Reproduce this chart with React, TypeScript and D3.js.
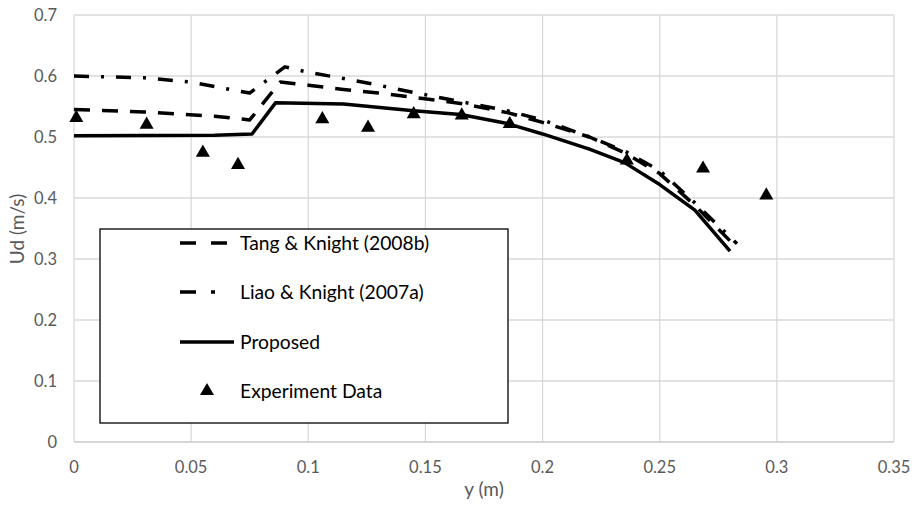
import React from "react";
import * as d3 from "d3";

const xTicks = [0, 0.05, 0.1, 0.15, 0.2, 0.25, 0.3, 0.35];
const yTicks = [0, 0.1, 0.2, 0.3, 0.4, 0.5, 0.6, 0.7];

const tangX = [0, 0.03, 0.06, 0.075, 0.088, 0.1, 0.115, 0.13, 0.145, 0.165, 0.185, 0.2, 0.22, 0.235, 0.25, 0.265, 0.282];
const tangY = [0.545, 0.541, 0.534, 0.528, 0.59, 0.585, 0.578, 0.572, 0.565, 0.555, 0.54, 0.524, 0.5, 0.474, 0.44, 0.388, 0.322];

const liaoX = [0, 0.03, 0.05, 0.075, 0.09, 0.1, 0.115, 0.13, 0.145, 0.165, 0.185, 0.2, 0.22, 0.235, 0.25, 0.265, 0.283];
const liaoY = [0.6, 0.597, 0.59, 0.572, 0.615, 0.606, 0.596, 0.585, 0.573, 0.558, 0.543, 0.528, 0.5, 0.477, 0.445, 0.392, 0.325];

const propX = [0, 0.06, 0.076, 0.086, 0.115, 0.145, 0.165, 0.185, 0.2, 0.22, 0.235, 0.25, 0.265, 0.28];
const propY = [0.502, 0.503, 0.505, 0.556, 0.554, 0.543, 0.537, 0.522, 0.505, 0.48, 0.458, 0.422, 0.38, 0.313];

const expX = [0.001, 0.031, 0.055, 0.07, 0.106, 0.1255, 0.145, 0.1655, 0.186, 0.236, 0.2685, 0.2955];
const expY = [0.533, 0.522, 0.476, 0.456, 0.531, 0.517, 0.539, 0.537, 0.523, 0.463, 0.45, 0.406];

const legendLabels = ["Tang & Knight (2008b)", "Liao & Knight (2007a)", "Proposed", "Experiment Data"];

const W = 917;
const H = 510;
const FONT = "Lato, 'Open Sans', sans-serif";

export default function App() {
  const x = d3.scaleLinear().domain([0, 0.35]).range([74, 894]);
  const y = d3.scaleLinear().domain([0, 0.7]).range([442, 15]);
  const line = d3
    .line<[number, number]>()
    .x((d) => x(d[0]))
    .y((d) => y(d[1]));
  const zip = (a: number[], b: number[]) => a.map((v, i) => [v, b[i]] as [number, number]);
  const tri = d3.symbol().type(d3.symbolTriangle).size(85)();

  const styles = [
    { dash: "16 12" },
    { dash: "15 12 3 12" },
    { dash: "" },
  ];
  const series = [zip(tangX, tangY), zip(liaoX, liaoY), zip(propX, propY)];

  const legendRowsY = [253, 302, 352, 401];

  return (
    <svg width={W} height={H} style={{ position: "absolute", left: 0, top: 0, background: "#fff" }}>
      <rect x={0} y={0} width={W} height={H} fill="#fff" />
      {xTicks.map((t) => (
        <line key={"gx" + t} x1={x(t)} x2={x(t)} y1={y(0)} y2={y(0.7)} stroke="#d9d9d9" strokeWidth={1.3} />
      ))}
      {yTicks.map((t) => (
        <line key={"gy" + t} x1={x(0)} x2={x(0.35)} y1={y(t)} y2={y(t)} stroke={t === 0 ? "#c8c8c8" : "#d9d9d9"} strokeWidth={1.3} />
      ))}
      {xTicks.map((t) => (
        <text key={"tx" + t} x={x(t)} y={473} textAnchor="middle" fontFamily={FONT} fontSize={16.5} fill="#595959">
          {d3.format("")(t)}
        </text>
      ))}
      {yTicks.map((t) => (
        <text key={"ty" + t} x={57} y={y(t) + 6} textAnchor="end" fontFamily={FONT} fontSize={16.5} fill="#595959">
          {d3.format("")(t)}
        </text>
      ))}
      <text x={484} y={496} textAnchor="middle" fontFamily={FONT} fontSize={19} fill="#595959">
        y (m)
      </text>
      <text
        transform={`translate(24, 229) rotate(-90)`}
        textAnchor="middle"
        fontFamily={FONT}
        fontSize={19}
        fill="#595959"
      >
        Ud (m/s)
      </text>
      {series.map((s, i) => (
        <path
          key={"s" + i}
          d={line(s) || ""}
          fill="none"
          stroke="#000"
          strokeWidth={3.5}
          strokeDasharray={styles[i].dash}
          strokeLinejoin="round"
        />
      ))}
      {expX.map((v, i) => (
        <path key={"e" + i} d={tri || ""} transform={`translate(${x(v)}, ${y(expY[i]) + 1})`} fill="#000" />
      ))}
      <rect x={100} y={229} width={408} height={194} fill="#fff" stroke="#000" strokeWidth={1.3} />
      {[0, 1, 2].map((i) => (
        <line
          key={"ll" + i}
          x1={180}
          x2={i === 2 ? 234 : 230}
          y1={legendRowsY[i] - 10}
          y2={legendRowsY[i] - 10}
          stroke="#000"
          strokeWidth={3.5}
          strokeDasharray={i === 0 ? "16 15" : i === 1 ? "16 15 4 40" : ""}
        />
      ))}
      <path d={tri || ""} transform={`translate(207, ${legendRowsY[3] - 10})`} fill="#000" />
      {legendLabels.map((l, i) => (
        <text key={"lt" + i} x={240} y={legendRowsY[i] - 3} fontFamily={FONT} fontSize={19.3} fill="#000">
          {l}
        </text>
      ))}
    </svg>
  );
}
